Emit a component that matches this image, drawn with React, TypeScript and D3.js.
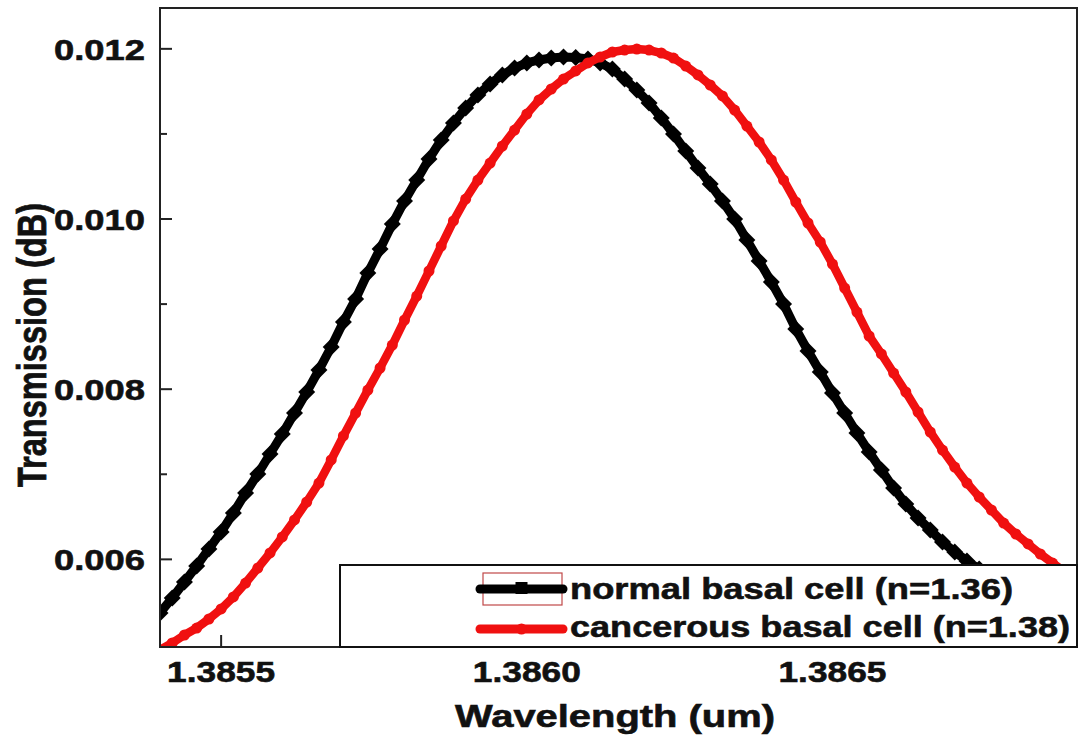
import React from 'react';
import * as d3 from 'd3';

const wavelength = [
  1.38540, 1.38542, 1.38544, 1.38546, 1.38548, 1.38550, 1.38552, 1.38554, 1.38556, 1.38558,
  1.38560, 1.38562, 1.38564, 1.38566, 1.38568, 1.38570, 1.38572, 1.38574, 1.38576, 1.38578,
  1.38580, 1.38582, 1.38584, 1.38586, 1.38588, 1.38590, 1.38592, 1.38594, 1.38596, 1.38598,
  1.38600, 1.38602, 1.38604, 1.38606, 1.38608, 1.38610, 1.38612, 1.38614, 1.38616, 1.38618,
  1.38620, 1.38622, 1.38624, 1.38626, 1.38628, 1.38630, 1.38632, 1.38634, 1.38636, 1.38638,
  1.38640, 1.38642, 1.38644, 1.38646, 1.38648, 1.38650, 1.38652, 1.38654, 1.38656, 1.38658,
  1.38660, 1.38662, 1.38664, 1.38666, 1.38668, 1.38670, 1.38672, 1.38674, 1.38676, 1.38678,
  1.38680, 1.38682, 1.38684, 1.38686, 1.38688, 1.38690,
];

const normalBasal = [
  0.005370, 0.005546, 0.005734, 0.005922, 0.006122, 0.006322, 0.006545, 0.006780, 0.007003, 0.007238,
  0.007473, 0.007720, 0.007967, 0.008225, 0.008496, 0.008790, 0.009060, 0.009366, 0.009648, 0.009941,
  0.010212, 0.010458, 0.010705, 0.010929, 0.011128, 0.011305, 0.011458, 0.011587, 0.011693, 0.011775,
  0.011834, 0.011869, 0.011892, 0.011904, 0.011898, 0.011881, 0.011834, 0.011763, 0.011645, 0.011516,
  0.011364, 0.011187, 0.010999, 0.010799, 0.010600, 0.010411, 0.010212, 0.010000, 0.009753, 0.009507,
  0.009260, 0.009001, 0.008707, 0.008449, 0.008202, 0.007955, 0.007720, 0.007485, 0.007262, 0.007050,
  0.006839, 0.006651, 0.006486, 0.006345, 0.006204, 0.006087, 0.005981, 0.005887, 0.005793,
];

const cancerousBasal = [
  0.004935, 0.005017, 0.005111, 0.005193, 0.005299, 0.005417, 0.005558, 0.005722, 0.005898, 0.006075,
  0.006263, 0.006463, 0.006674, 0.006897, 0.007168, 0.007450, 0.007720, 0.007990, 0.008249, 0.008519,
  0.008813, 0.009095, 0.009389, 0.009683, 0.009977, 0.010235, 0.010458, 0.010658, 0.010858, 0.011046,
  0.011234, 0.011399, 0.011528, 0.011645, 0.011740, 0.011834, 0.011904, 0.011963, 0.011986, 0.011998,
  0.011986, 0.011951, 0.011892, 0.011798, 0.011693, 0.011575, 0.011446, 0.011281, 0.011093, 0.010905,
  0.010694, 0.010458, 0.010200, 0.009953, 0.009730, 0.009471, 0.009189, 0.008907, 0.008625, 0.008414,
  0.008190, 0.007967, 0.007732, 0.007497, 0.007285, 0.007085, 0.006897, 0.006733, 0.006580, 0.006427,
  0.006298, 0.006181, 0.006063, 0.005957, 0.005851, 0.005757,
];

const xTicks = [1.3855, 1.386, 1.3865];
const xTickLabels = ['1.3855', '1.3860', '1.3865'];
const xMinorTicks = [1.38575, 1.38625, 1.38675];
const yTicks = [0.006, 0.008, 0.01, 0.012];
const yTickLabels = ['0.006', '0.008', '0.010', '0.012'];
const yMinorTicks = [0.007, 0.009, 0.011];
const legendLabels = ['normal basal cell (n=1.36)', 'cancerous basal cell (n=1.38)'];
const seriesColors = ['#000000', '#f01010'];

const FONT = '"Liberation Sans", Arial, Helvetica, sans-serif';

export default function App() {
  const W = 1080;
  const H = 735;
  const left = 160, right = 1077, top = 8, bottom = 647;
  const x = d3.scaleLinear().domain([1.3854, 1.3869]).range([left, right]);
  const y = d3.scaleLinear().domain([0.00497, 0.01248]).range([bottom, top]);

  const blackPts: [number, number][] = normalBasal.map((v, i) => [wavelength[i], v]);
  const redPts: [number, number][] = cancerousBasal.map((v, i) => [wavelength[i], v]);
  const line = d3.line<[number, number]>().x(d => x(d[0])).y(d => y(d[1]));

  const legX = 340, legY = 565;
  const sampleX1 = 480, sampleX2 = 563;
  const row1 = 589, row2 = 629;
  const txt = '#111';

  return (
    <svg width={W} height={H} style={{ position: 'absolute', left: 0, top: 0, background: '#fff' }}
      fontFamily={FONT}>
      <defs>
        <clipPath id="plotClip">
          <rect x={left} y={top} width={right - left} height={bottom - top} />
        </clipPath>
      </defs>
      <rect x={0} y={0} width={W} height={H} fill="#fff" />
      <g clipPath="url(#plotClip)">
        <path d={line(blackPts) || ''} fill="none" stroke={seriesColors[0]} strokeWidth={9} strokeLinejoin="round" />
        {blackPts.map((d, i) => (
          <rect key={'b' + i} x={x(d[0]) - 6} y={y(d[1]) - 6} width={12} height={12} fill={seriesColors[0]}
            transform={`rotate(45 ${x(d[0])} ${y(d[1])})`} />
        ))}
        <path d={line(redPts) || ''} fill="none" stroke={seriesColors[1]} strokeWidth={8.5} strokeLinejoin="round" />
        {redPts.map((d, i) => (
          <circle key={'r' + i} cx={x(d[0])} cy={y(d[1])} r={5.5} fill={seriesColors[1]} />
        ))}
      </g>
      {/* ticks */}
      {yTicks.map((t, i) => (
        <line key={'yt' + i} x1={left} x2={left + 12} y1={y(t)} y2={y(t)} stroke="#222" strokeWidth={2} />
      ))}
      {yMinorTicks.map((t, i) => (
        <line key={'ym' + i} x1={left} x2={left + 7} y1={y(t)} y2={y(t)} stroke="#222" strokeWidth={2} />
      ))}
      {xTicks.map((t, i) => (
        <line key={'xt' + i} x1={x(t)} x2={x(t)} y1={bottom} y2={bottom - 12} stroke="#222" strokeWidth={2} />
      ))}
      {xMinorTicks.map((t, i) => (
        <line key={'xm' + i} x1={x(t)} x2={x(t)} y1={bottom} y2={bottom - 7} stroke="#222" strokeWidth={2} />
      ))}
      <rect x={left} y={top} width={right - left} height={bottom - top} fill="none" stroke="#222" strokeWidth={2} />

      {/* legend */}
      <rect x={legX} y={legY} width={right - legX} height={bottom - legY} fill="#fff" stroke="#111" strokeWidth={2} />
      <rect x={483} y={573} width={79} height={32} fill="none" stroke="#c04848" strokeWidth={1.2} />
      <line x1={sampleX1} x2={sampleX2} y1={row1} y2={row1} stroke={seriesColors[0]} strokeWidth={9} strokeLinecap="round" />
      <rect x={(sampleX1 + sampleX2) / 2 - 6} y={row1 - 7} width={12} height={12} fill={seriesColors[0]} />
      <line x1={sampleX1} x2={sampleX2} y1={row2} y2={row2} stroke={seriesColors[1]} strokeWidth={9} strokeLinecap="round" />
      <circle cx={(sampleX1 + sampleX2) / 2} cy={row2} r={5.5} fill={seriesColors[1]} />
      <text x={570} y={599} fontSize={30} fontWeight="bold" fill={txt} stroke={txt} strokeWidth={0.6}
        textLength={443} lengthAdjust="spacingAndGlyphs">{legendLabels[0]}</text>
      <text x={570} y={637} fontSize={30} fontWeight="bold" fill={txt} stroke={txt} strokeWidth={0.6}
        textLength={500} lengthAdjust="spacingAndGlyphs">{legendLabels[1]}</text>

      {/* tick labels */}
      {yTicks.map((t, i) => (
        <text key={'yl' + i} x={145} y={y(t) + 11} fontSize={30} fontWeight="bold" fill={txt} stroke={txt} strokeWidth={0.6}
          textAnchor="end" textLength={91} lengthAdjust="spacingAndGlyphs">{yTickLabels[i]}</text>
      ))}
      {xTicks.map((t, i) => (
        <text key={'xl' + i} x={x(t)} y={682} fontSize={30} fontWeight="bold" fill={txt} stroke={txt} strokeWidth={0.6}
          textAnchor="middle" textLength={108} lengthAdjust="spacingAndGlyphs">{xTickLabels[i]}</text>
      ))}

      {/* axis titles */}
      <text x={615} y={727} fontSize={31} fontWeight="bold" fill={txt} stroke={txt} strokeWidth={0.6} textAnchor="middle"
        textLength={320} lengthAdjust="spacingAndGlyphs">Wavelength (um)</text>
      <g transform="translate(46,345) scale(1.3,1) rotate(-90)">
        <text x={0} y={0} fontSize={31} fontWeight="bold" fill={txt} stroke={txt} strokeWidth={0.6} textAnchor="middle"
          textLength={284} lengthAdjust="spacingAndGlyphs">Transmission (dB)</text>
      </g>
    </svg>
  );
}
